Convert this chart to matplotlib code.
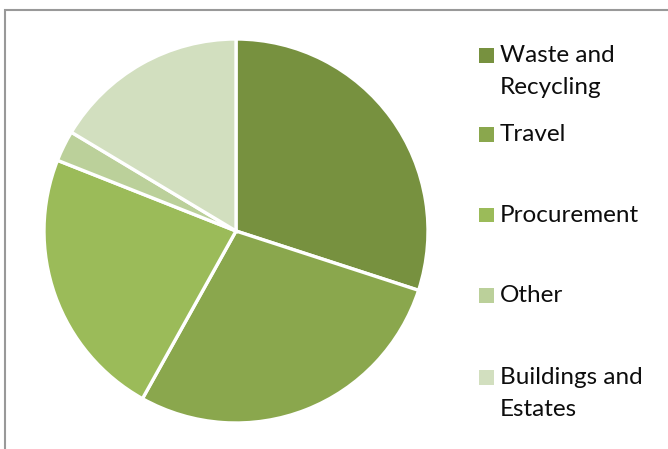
import matplotlib
matplotlib.use("Agg")
import matplotlib.pyplot as plt
from matplotlib.patches import Rectangle

labels = ["Waste and\nRecycling", "Travel", "Procurement", "Other", "Buildings and\nEstates"]
values = [30.0, 28.1, 22.9, 2.6, 16.4]
colors = ["#77913F", "#8AA74D", "#9BBB59", "#BBD09A", "#D2DFBF"]

W, H = 668, 449
fig = plt.figure(figsize=(W / 100, H / 100), dpi=100)

# chart frame
frame = Rectangle((5 / W, -0.05), 1.1, (H - 9.5) / H + 0.05, transform=fig.transFigure,
                  fill=False, edgecolor="#999999", linewidth=1.5)
fig.patches.append(frame)

cx, cy, r = 236, 231, 192
ax = fig.add_axes([(cx - r) / W, (H - cy - r) / H, 2 * r / W, 2 * r / H])
ax.pie(values, colors=colors, startangle=90, counterclock=False,
       wedgeprops=dict(edgecolor="white", linewidth=2.4))
ax.set_xlim(-1, 1)
ax.set_ylim(-1, 1)
ax.set_aspect("equal")
ax.axis("off")

# legend
ys = [55, 134, 215, 295, 377]
for lab, col, y in zip(labels, colors, ys):
    fig.patches.append(Rectangle((479 / W, (H - y - 7.5) / H), 15 / W, 15 / H,
                                 transform=fig.transFigure, facecolor=col, edgecolor="none"))
    for i, line in enumerate(lab.split("\n")):
        fig.text(500 / W, (H - (y + 7 + 32 * i)) / H, line, fontsize=17.5, family="Lato",
                 va="baseline", ha="left", color="#0d0d0d")

fig.savefig("out.png", dpi=100)
